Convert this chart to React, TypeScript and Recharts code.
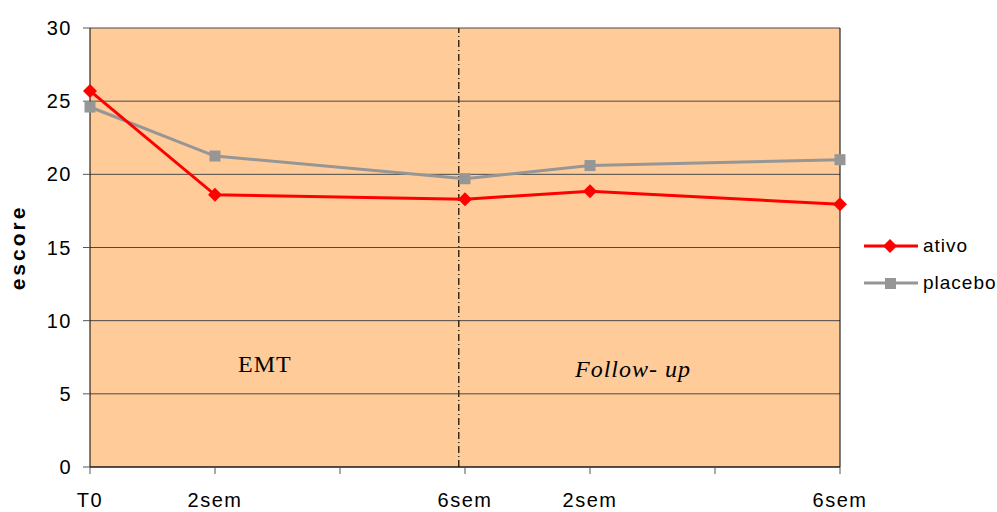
import { CartesianGrid, Line, LineChart, ReferenceLine, XAxis, YAxis } from "recharts";

const weeks = [0, 2, 6, 8, 12];
const weekLabels = ["T0", "2sem", "6sem", "2sem", "6sem"];
const ativo = [25.7, 18.6, 18.3, 18.85, 17.95];
const placebo = [24.6, 21.25, 19.7, 20.6, 21.0];
const yTicks = [0, 5, 10, 15, 20, 25, 30];
const xTicks = [0, 2, 4, 6, 8, 10, 12];
const phaseBreak = 5.9;

const data = weeks.map((w, i) => ({ week: w, ativo: ativo[i], placebo: placebo[i] }));

const RED = "#FF0000";
const GRAY = "#969696";
const FONT = "'Liberation Sans', Arial, sans-serif";
const SERIF = "'Liberation Serif', 'Times New Roman', serif";

function Diamond({ cx, cy }: { cx?: number; cy?: number }) {
  if (cx == null || cy == null) return null;
  const r = 7;
  return <path d={`M${cx},${cy - r}L${cx + r},${cy}L${cx},${cy + r}L${cx - r},${cy}Z`} fill={RED} />;
}

function Square({ cx, cy }: { cx?: number; cy?: number }) {
  if (cx == null || cy == null) return null;
  return <rect x={cx - 5.5} y={cy - 5.5} width={11} height={11} fill={GRAY} />;
}

function xLabel(v: number) {
  const i = weeks.indexOf(v);
  return i >= 0 ? weekLabels[i] : "";
}

function LegendRow({ color, label, marker }: { color: string; label: string; marker: "diamond" | "square" }) {
  return (
    <div style={{ display: "flex", alignItems: "center", height: 20 }}>
      <svg width={56} height={16}>
        <line x1={1} y1={8} x2={55} y2={8} stroke={color} strokeWidth={3} />
        {marker === "diamond" ? (
          <path d="M27,1L34,8L27,15L20,8Z" fill={color} />
        ) : (
          <rect x={22} y={3} width={11} height={11} fill={color} />
        )}
      </svg>
      <span style={{ marginLeft: 4, fontSize: 19, letterSpacing: 1, fontFamily: FONT, color: "#000" }}>
        {label}
      </span>
    </div>
  );
}

const tickStyle = { fontSize: 20, fill: "#000", fontFamily: FONT, letterSpacing: 1.5 };

export default function App() {
  return (
    <div style={{ position: "absolute", left: 0, top: 0, width: 997, height: 512, background: "#fff" }}>
      <LineChart
        width={997}
        height={512}
        data={data}
        margin={{ top: 28, right: 157, bottom: 5, left: 30 }}
      >
        <CartesianGrid
          vertical={false}
          stroke="#4a4a4a"
          fill="#FFCC99"
          fillOpacity={1}
          horizontalValues={yTicks}
        />
        <XAxis
          dataKey="week"
          type="number"
          domain={[0, 12]}
          ticks={xTicks}
          tickFormatter={xLabel}
          height={40}
          tickSize={7}
          tickMargin={19}
          stroke="#000"
          tickLine={{ stroke: "#555" }}
          tick={tickStyle}
          interval={0}
        />
        <YAxis
          domain={[0, 30]}
          ticks={yTicks}
          width={60}
          tickSize={7}
          tickMargin={11}
          stroke="#000"
          tickLine={{ stroke: "#555" }}
          tick={tickStyle}
          label={{
            value: "escore",
            angle: -90,
            position: "insideLeft",
            offset: -12,
            style: {
              fontSize: 21,
              fontWeight: "bold",
              letterSpacing: 3,
              fill: "#000",
              fontFamily: FONT,
              textAnchor: "middle",
            },
          }}
        />
        <ReferenceLine x={12} stroke="#000" strokeWidth={1} />
        <ReferenceLine x={phaseBreak} stroke="#3a2a1a" strokeWidth={1.5} strokeDasharray="7 3 1 3" />
        <Line
          dataKey="placebo"
          stroke={GRAY}
          strokeWidth={3}
          dot={<Square />}
          activeDot={false}
          isAnimationActive={false}
        />
        <Line
          dataKey="ativo"
          stroke={RED}
          strokeWidth={3}
          dot={<Diamond />}
          activeDot={false}
          isAnimationActive={false}
        />
      </LineChart>
      <div
        style={{
          position: "absolute",
          left: 238,
          top: 351,
          fontFamily: SERIF,
          fontSize: 24,
          letterSpacing: 1,
          color: "#000",
        }}
      >
        EMT
      </div>
      <div
        style={{
          position: "absolute",
          left: 575,
          top: 356,
          fontFamily: SERIF,
          fontStyle: "italic",
          fontSize: 24,
          letterSpacing: 1,
          color: "#000",
        }}
      >
        Follow- up
      </div>
      <div style={{ position: "absolute", left: 863, top: 236 }}>
        <LegendRow color={RED} label="ativo" marker="diamond" />
        <div style={{ height: 17 }} />
        <LegendRow color={GRAY} label="placebo" marker="square" />
      </div>
    </div>
  );
}
